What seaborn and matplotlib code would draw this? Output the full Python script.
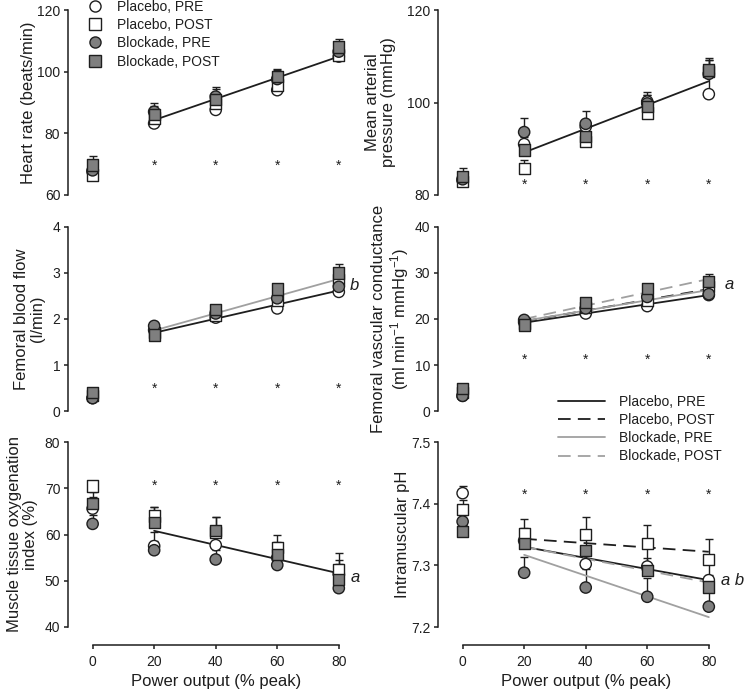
import matplotlib
matplotlib.use("Agg")
import matplotlib.pyplot as plt
from matplotlib.lines import Line2D
import numpy as np
import pandas as pd
import seaborn as sns

# ---- data ---------------------------------------------------------------
POWER = [0, 20, 40, 60, 80]
FIT_POWER = [20, 80]
STAR_POWER = [20, 40, 60, 80]
GROUPS = ["Placebo, PRE", "Placebo, POST", "Blockade, PRE", "Blockade, POST"]

# each table: one row per group, in GROUPS order
HR_MEAN = [[67.5, 83.2, 87.6, 94.0, 104.9],
           [66.5, 85.0, 89.7, 95.7, 105.4],
           [68.0, 87.0, 91.9, 97.6, 106.5],
           [69.7, 86.0, 91.0, 98.4, 108.0]]
HR_SE = [[1.5, 1.5, 1.5, 1.5, 1.5],
         [1.5, 1.5, 1.5, 1.5, 1.5],
         [2.5, 3.0, 3.0, 3.0, 3.0],
         [3.0, 3.0, 3.5, 2.6, 2.6]]
HR_FITS = {"Placebo, PRE": [84.3, 104.9]}
HR_STAR = 69.5

MAP_MEAN = [[83.2, 91.0, 94.8, 100.2, 101.8],
            [82.9, 85.8, 91.5, 97.7, 106.7],
            [83.4, 93.6, 95.4, 99.8, 106.2],
            [84.0, 89.7, 92.6, 99.2, 107.0]]
MAP_SE = [[1.0, 1.5, 1.5, 1.5, 4.0],
          [1.0, 1.8, 1.5, 2.0, 2.5],
          [1.5, 3.0, 2.8, 2.5, 3.0],
          [1.9, 2.0, 2.0, 2.5, 2.7]]
MAP_FITS = {"Placebo, PRE": [89.2, 104.6]}
MAP_STAR = 82.2

FBF_MEAN = [[0.28, 1.76, 2.03, 2.23, 2.59],
            [0.33, 1.70, 2.08, 2.40, 2.85],
            [0.28, 1.85, 2.12, 2.45, 2.70],
            [0.40, 1.65, 2.20, 2.65, 3.00]]
FBF_SE = [[0.05, 0.08, 0.08, 0.08, 0.08],
          [0.05, 0.08, 0.08, 0.08, 0.08],
          [0.05, 0.08, 0.08, 0.08, 0.08],
          [0.05, 0.10, 0.08, 0.08, 0.20]]
FBF_FITS = {"Placebo, PRE": [1.70, 2.62], "Blockade, PRE": [1.75, 2.87]}
FBF_STAR = 0.49

FVC_MEAN = [[3.3, 19.3, 21.2, 22.8, 25.2],
            [4.0, 19.0, 22.5, 24.0, 27.0],
            [3.3, 19.8, 22.3, 24.8, 25.4],
            [4.9, 18.7, 23.6, 26.7, 28.1]]
FVC_SE = [[0.5, 0.6, 0.6, 0.6, 0.6],
          [0.5, 0.6, 0.6, 0.6, 0.8],
          [0.5, 0.6, 0.6, 0.6, 0.6],
          [0.5, 0.8, 0.8, 0.8, 1.6]]
FVC_FITS = {"Placebo, PRE": [19.2, 25.2], "Placebo, POST": [19.5, 26.5],
            "Blockade, PRE": [19.6, 26.3], "Blockade, POST": [20.0, 28.7]}
FVC_STAR = 11.1

MTOI_MEAN = [[65.6, 57.5, 57.7, 55.0, 51.5],
             [70.5, 64.0, 60.5, 57.2, 52.5],
             [62.3, 56.6, 54.6, 53.4, 48.4],
             [66.7, 62.6, 60.8, 55.6, 50.2]]
MTOI_SE = [[2.5, 3.0, 2.5, 2.5, 3.0],
           [1.1, 2.0, 3.3, 2.8, 3.6],
           [2.0, 2.0, 2.0, 2.0, 2.0],
           [2.5, 3.4, 3.0, 2.8, 3.5]]
MTOI_FITS = {"Placebo, PRE": [60.8, 51.6]}
MTOI_STAR = 70.5

PH_MEAN = [[7.417, 7.340, 7.302, 7.298, 7.276],
           [7.391, 7.352, 7.350, 7.335, 7.310],
           [7.371, 7.288, 7.264, 7.249, 7.233],
           [7.355, 7.335, 7.324, 7.292, 7.265]]
PH_SE = [[0.011, 0.020, 0.030, 0.030, 0.030],
         [0.015, 0.023, 0.028, 0.031, 0.032],
         [0.010, 0.026, 0.030, 0.030, 0.030],
         [0.010, 0.015, 0.020, 0.020, 0.020]]
PH_FITS = {"Placebo, PRE": [7.330, 7.276], "Placebo, POST": [7.343, 7.322],
           "Blockade, PRE": [7.317, 7.216], "Blockade, POST": [7.330, 7.272]}
PH_STAR = 7.414

# ---- styling --------------------------------------------------------------
INK = "#1e1e1e"
GRAY_FILL = "#7f7f7f"
GRAY_LINE = "#a0a0a0"
FILLS = {"Placebo, PRE": "white", "Placebo, POST": "white",
         "Blockade, PRE": GRAY_FILL, "Blockade, POST": GRAY_FILL}
MARKERS = {"Placebo, PRE": "o", "Placebo, POST": "s",
           "Blockade, PRE": "o", "Blockade, POST": "s"}
LINE_COLORS = {"Placebo, PRE": INK, "Placebo, POST": INK,
               "Blockade, PRE": GRAY_LINE, "Blockade, POST": GRAY_LINE}
LINE_DASHES = {"Placebo, PRE": "", "Placebo, POST": (7, 4),
               "Blockade, PRE": "", "Blockade, POST": (7, 4)}

sns.set_theme(style="ticks")
plt.rcParams["font.family"] = ["Liberation Sans", "DejaVu Sans"]
plt.rcParams["mathtext.default"] = "regular"
plt.rcParams.update({
    "axes.linewidth": 1.1,
    "axes.edgecolor": INK,
    "axes.labelcolor": INK,
    "text.color": INK,
    "xtick.color": INK,
    "ytick.color": INK,
    "xtick.major.width": 1.1,
    "ytick.major.width": 1.1,
    "xtick.major.size": 3,
    "ytick.major.size": 3,
    "xtick.labelsize": 10,
    "ytick.labelsize": 10,
    "axes.labelsize": 12,
})


def long_frame(mean):
    rows = []
    for g, vals in zip(GROUPS, mean):
        for p, v in zip(POWER, vals):
            rows.append({"power": p, "value": v, "group": g})
    return pd.DataFrame(rows)


def fit_frame(fits):
    rows = []
    for g, vals in fits.items():
        for p, v in zip(FIT_POWER, vals):
            rows.append({"power": p, "value": v, "group": g})
    return pd.DataFrame(rows)


def draw_panel(ax, mean, se, fits, star_y):
    for vals, err in zip(mean, se):
        ax.errorbar(POWER, vals, yerr=[np.zeros(len(err)), err], fmt="none",
                    ecolor=INK, elinewidth=1.0, capsize=3, capthick=1.0,
                    zorder=2, clip_on=False)
    fdf = fit_frame(fits)
    order = list(fits.keys())
    sns.lineplot(data=fdf, x="power", y="value", hue="group", style="group",
                 hue_order=order, style_order=order,
                 palette={k: LINE_COLORS[k] for k in order},
                 dashes={k: LINE_DASHES[k] for k in order},
                 errorbar=None, sort=False, lw=1.3, legend=False, ax=ax,
                 zorder=3)
    sns.scatterplot(data=long_frame(mean), x="power", y="value", hue="group",
                    style="group", hue_order=GROUPS, style_order=GROUPS,
                    palette=FILLS, markers=MARKERS, s=66, edgecolor=INK,
                    linewidth=1.0, legend=False, ax=ax, zorder=4,
                    clip_on=False)
    for p in STAR_POWER:
        ax.text(p, star_y, "*", ha="center", va="center", fontsize=10)
    ax.set_xlim(-8, 88)
    sns.despine(ax=ax)
    ax.set_xlabel("")
    ax.set_ylabel("")


fig = plt.figure(figsize=(7.46, 6.96), dpi=100)
W = 0.396
LEFT = [68 / 746, 438 / 746]
ROWS = [(1 - 195 / 696, 185 / 696), (1 - 411 / 696, 184 / 696),
        (1 - 627 / 696, 185 / 696)]

panels = [
    (0, 0, HR_MEAN, HR_SE, HR_FITS, HR_STAR, (60, 120), [60, 80, 100, 120],
     "Heart rate (beats/min)", -0.108),
    (0, 1, MAP_MEAN, MAP_SE, MAP_FITS, MAP_STAR, (80, 120), [80, 100, 120],
     "Mean arterial\npressure (mmHg)", -0.142),
    (1, 0, FBF_MEAN, FBF_SE, FBF_FITS, FBF_STAR, (0, 4), [0, 1, 2, 3, 4],
     "Femoral blood flow\n(l/min)", -0.078),
    (1, 1, FVC_MEAN, FVC_SE, FVC_FITS, FVC_STAR, (0, 40), [0, 10, 20, 30, 40],
     "Femoral vascular conductance\n(ml min$^{-1}$ mmHg$^{-1}$)", -0.092),
    (2, 0, MTOI_MEAN, MTOI_SE, MTOI_FITS, MTOI_STAR, (40, 80), [40, 50, 60, 70, 80],
     "Muscle tissue oxygenation\nindex (%)", -0.102),
    (2, 1, PH_MEAN, PH_SE, PH_FITS, PH_STAR, (7.2, 7.5), [7.2, 7.3, 7.4, 7.5],
     "Intramuscular pH", -0.095),
]

axes = {}
for row, col, mean, se, fits, star_y, ylim, yticks, ylabel, lab_x in panels:
    bottom, height = ROWS[row]
    ax = fig.add_axes([LEFT[col], bottom, W, height])
    draw_panel(ax, mean, se, fits, star_y)
    ax.set_ylim(*ylim)
    ax.set_yticks(yticks)
    ax.set_yticklabels([f"{t:g}" for t in yticks])
    ax.tick_params(axis="y", pad=2.5)
    ax.set_ylabel(ylabel, linespacing=1.1)
    ax.yaxis.set_label_coords(lab_x, 0.5)
    if row < 2:
        ax.spines["bottom"].set_visible(False)
        ax.tick_params(axis="x", bottom=False, labelbottom=False)
    else:
        ax.spines["bottom"].set_position(("outward", 13))
        ax.spines["bottom"].set_bounds(0, 80)
        ax.set_xticks(POWER)
        ax.tick_params(axis="x", pad=4)
        ax.set_xlabel("Power output (% peak)")
    axes[(row, col)] = ax

note_kw = dict(fontsize=12, style="italic", ha="left", va="center")
axes[(1, 0)].text(83.6, 2.72, "b", **note_kw)
axes[(1, 1)].text(85.2, 27.4, "a", **note_kw)
axes[(2, 0)].text(84.0, 50.8, "a", **note_kw)
axes[(2, 1)].text(84.0, 7.276, "a b", **note_kw)

marker_handles = [Line2D([], [], ls="none", marker=MARKERS[g],
                         markerfacecolor=FILLS[g], markeredgecolor=INK,
                         markeredgewidth=1.0, markersize=8) for g in GROUPS]
fig.legend(marker_handles, GROUPS, loc="upper left",
           bbox_to_anchor=(88 / 746, 1.0), frameon=False, fontsize=10,
           handlelength=1.0, handletextpad=1.1, labelspacing=0.3,
           borderpad=0, borderaxespad=0)

line_handles = [Line2D([], [], color=LINE_COLORS[g], lw=1.3,
                       ls="-" if LINE_DASHES[g] == "" else (0, LINE_DASHES[g]))
                for g in GROUPS]
fig.legend(line_handles, GROUPS, loc="upper left",
           bbox_to_anchor=(558 / 746, 1 - 395 / 696), frameon=False,
           fontsize=10, handlelength=3.4, handletextpad=1.0,
           labelspacing=0.3, borderpad=0, borderaxespad=0)

fig.savefig("out.png", dpi=100)
